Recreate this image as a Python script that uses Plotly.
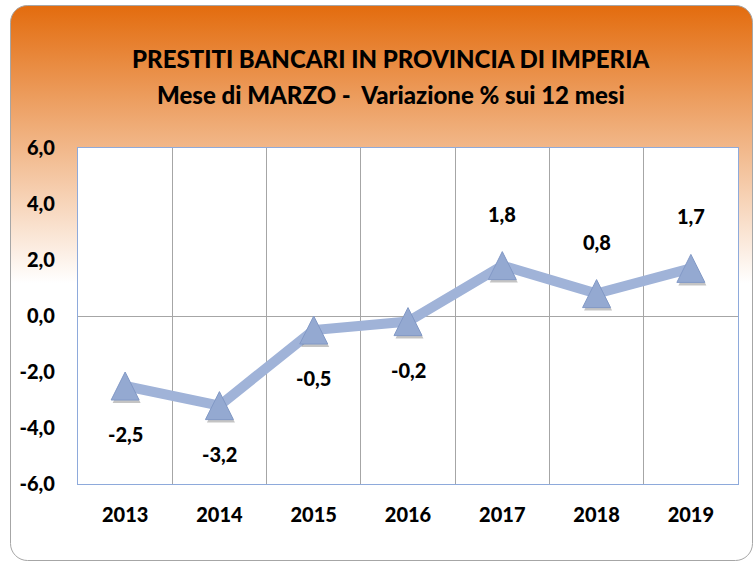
import base64
import plotly.graph_objects as go

# Data
years = ["2013", "2014", "2015", "2016", "2017", "2018", "2019"]
variation = [-2.5, -3.2, -0.5, -0.2, 1.8, 0.8, 1.7]
y_tick_values = [-6, -4, -2, 0, 2, 4, 6]
y_tick_labels = ["-6,0", "-4,0", "-2,0", "0,0", "2,0", "4,0", "6,0"]
title_lines = [
    "PRESTITI BANCARI IN PROVINCIA DI IMPERIA",
    "Mese di MARZO -  Variazione % sui 12 mesi",
]

W, H = 755, 563
ML, MR, MT, MB = 78, 17, 148, 79
PW, PH = W - ML - MR, H - MT - MB

FONT = "Lato"
xs = list(range(len(years)))

# Frame with orange-to-white gradient and a white plotting panel
svg = f"""<svg xmlns="http://www.w3.org/2000/svg" width="{W}" height="{H}" viewBox="0 0 {W} {H}">
<defs><linearGradient id="g" x1="0" y1="0" x2="0" y2="1">
<stop offset="0" stop-color="#E36C0E"/>
<stop offset="0.5" stop-color="#FFFFFF"/>
<stop offset="1" stop-color="#FFFFFF"/>
</linearGradient></defs>
<rect x="10.5" y="5.5" width="{W - 13}" height="{H - 8}" rx="17" ry="17" fill="url(#g)" stroke="#A6A6A6" stroke-width="1"/>
<rect x="{ML}" y="{MT}" width="{PW}" height="{PH}" fill="#FFFFFF"/>
</svg>"""
svg_uri = "data:image/svg+xml;base64," + base64.b64encode(svg.encode()).decode()

# Triangle markers sized in pixels, converted to axis units
x_per_px = 7 / PW
y_per_px = 12 / PH
half_w = 14 * x_per_px
half_h = 14 * y_per_px


def triangles(dx=0.0, dy=0.0):
    tx, ty = [], []
    for i, v in zip(xs, variation):
        tx += [i - half_w + dx, i + dx, i + half_w + dx, i - half_w + dx, None]
        ty += [v - half_h + dy, v + half_h + dy, v - half_h + dy, v - half_h + dy, None]
    return tx, ty


fig = go.Figure()

fig.add_trace(go.Scatter(
    x=xs, y=variation, mode="lines",
    line=dict(color="#A0B3D8", width=10),
    hoverinfo="skip", showlegend=False,
))

sx, sy = triangles(dx=1.5 * x_per_px, dy=-3 * y_per_px)
fig.add_trace(go.Scatter(
    x=sx, y=sy, mode="lines", fill="toself",
    fillcolor="rgba(60,60,60,0.30)", line=dict(width=0),
    hoverinfo="skip", showlegend=False,
))

tx, ty = triangles()
fig.add_trace(go.Scatter(
    x=tx, y=ty, mode="lines", fill="toself",
    fillcolor="#94A9D1", line=dict(color="#8299C6", width=1),
    hoverinfo="skip", showlegend=False,
))

# Value labels
for i, v in zip(xs, variation):
    label = f"{v:.1f}".replace(".", ",")
    fig.add_annotation(
        x=i, y=v, xref="x", yref="y", text=label, showarrow=False,
        yshift=52 if v >= 0 else -48,
        font=dict(family=FONT, size=20, color="#000000", weight=900),
    )

# Title
for k, line in enumerate(title_lines):
    fig.add_annotation(
        x=(391 - ML) / PW, y=1 + (MT - (58 + 37 * k)) / PH,
        xref="paper", yref="paper", text=line, showarrow=False,
        xanchor="center", yanchor="middle",
        font=dict(family=FONT, size=24, color="#000000", weight=900),
    )

fig.add_layout_image(dict(
    source=svg_uri, xref="paper", yref="paper",
    x=-ML / PW, y=1 + MT / PH, sizex=W / PW, sizey=H / PH,
    xanchor="left", yanchor="top", sizing="stretch", layer="below",
))

fig.update_layout(
    width=W, height=H,
    margin=dict(l=ML, r=MR, t=MT, b=MB),
    paper_bgcolor="#FFFFFF",
    plot_bgcolor="rgba(0,0,0,0)",
    showlegend=False,
)

fig.update_xaxes(
    range=[-0.5, len(years) - 0.5],
    tickvals=xs, ticktext=years,
    showgrid=False, zeroline=False,
    ticks="", ticklabelstandoff=13,
    tickfont=dict(family=FONT, size=20, color="#000000", weight=900),
    minor=dict(tick0=0.5, dtick=1, showgrid=True, gridcolor="#A6A6A6", gridwidth=1.3, ticks=""),
    showline=True, linecolor="#8EAADB", linewidth=1.3, mirror=True,
)

fig.update_yaxes(
    range=[-6, 6],
    tickvals=y_tick_values, ticktext=y_tick_labels,
    showgrid=False,
    zeroline=True, zerolinecolor="#A6A6A6", zerolinewidth=1.3,
    ticks="", ticklabelstandoff=18,
    tickfont=dict(family=FONT, size=20, color="#000000", weight=900),
    showline=True, linecolor="#8EAADB", linewidth=1.3, mirror=True,
)

fig.write_html("out.html")
